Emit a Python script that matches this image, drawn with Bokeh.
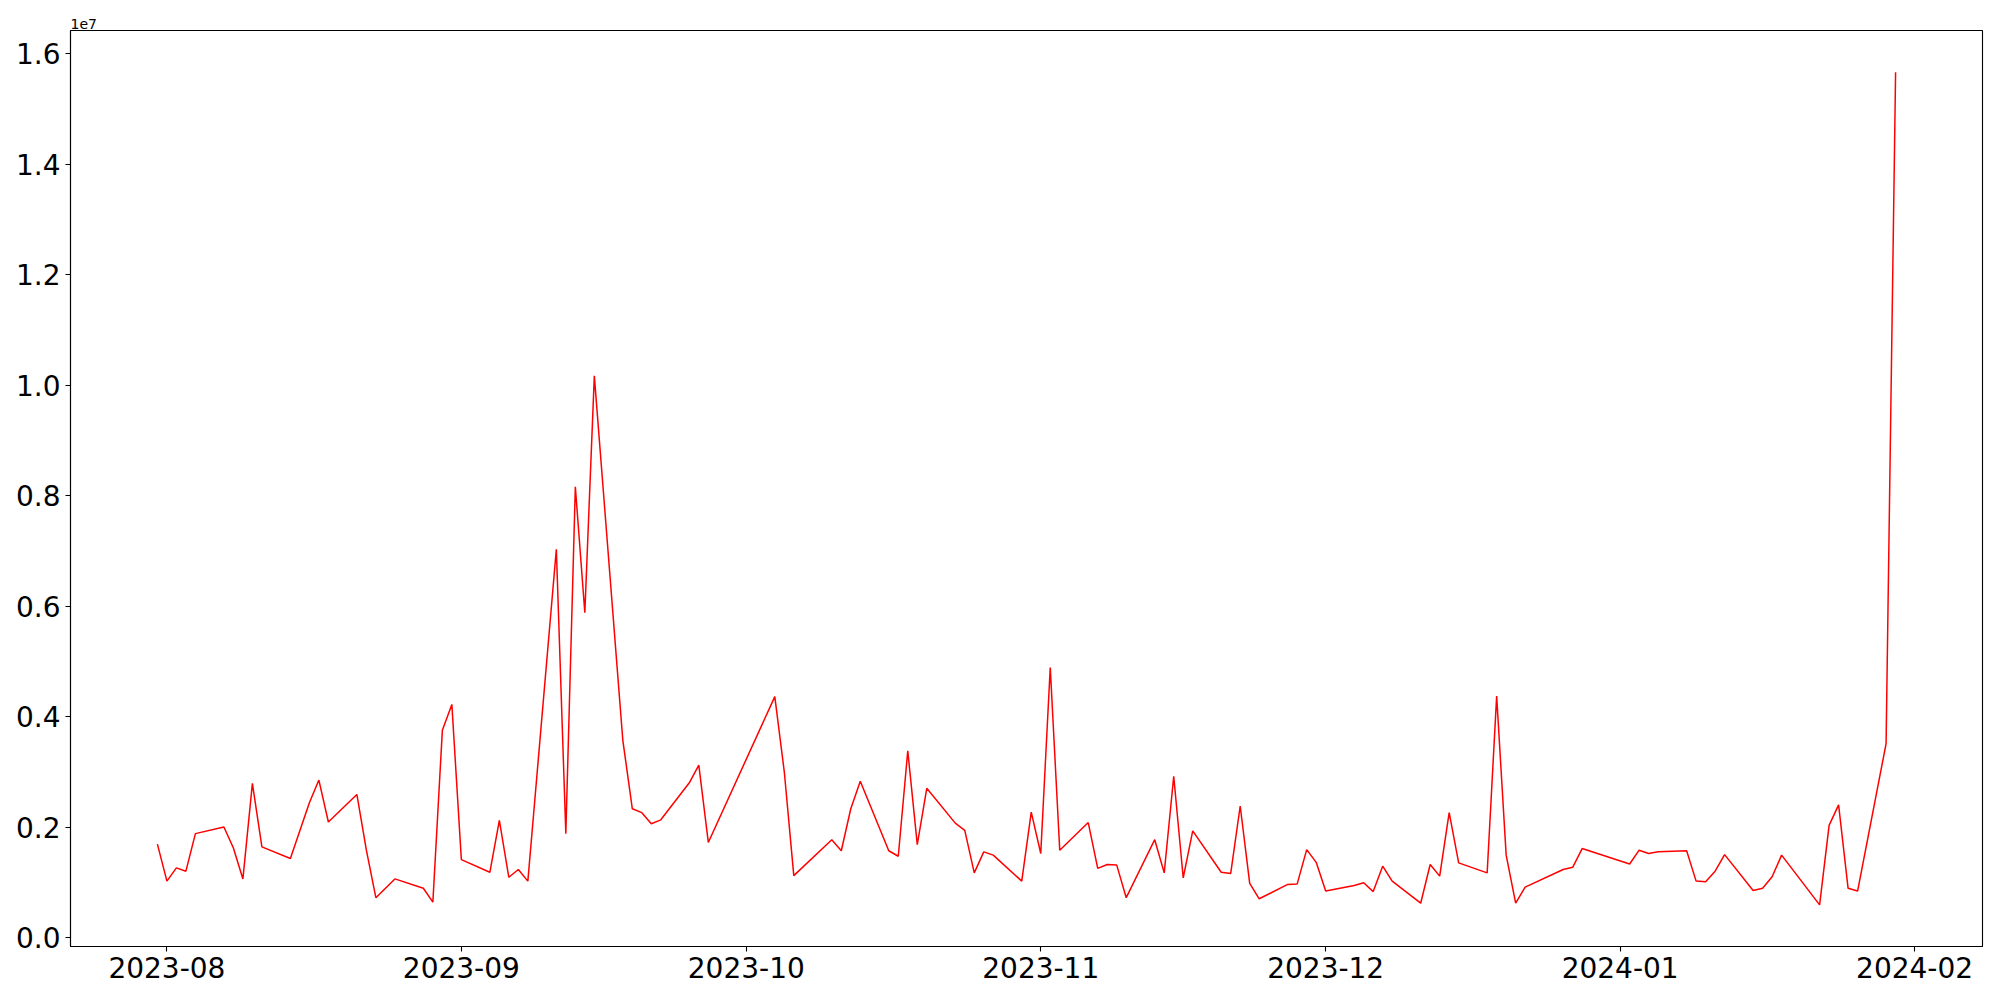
import pandas as pd
from bokeh.plotting import figure
from bokeh.models import Range1d, FixedTicker, CustomJSTickFormatter, DatetimeTickFormatter
from bokeh.embed import file_html
from bokeh.resources import INLINE

dates = [
    "2023-07-31", "2023-08-01", "2023-08-02", "2023-08-03", "2023-08-04",
    "2023-08-07", "2023-08-08", "2023-08-09", "2023-08-10", "2023-08-11",
    "2023-08-14", "2023-08-16", "2023-08-17", "2023-08-18",
    "2023-08-21", "2023-08-22", "2023-08-23", "2023-08-25",
    "2023-08-28", "2023-08-29", "2023-08-30", "2023-08-31", "2023-09-01",
    "2023-09-04", "2023-09-05", "2023-09-06", "2023-09-07", "2023-09-08",
    "2023-09-11", "2023-09-12", "2023-09-13", "2023-09-14", "2023-09-15",
    "2023-09-18", "2023-09-19", "2023-09-20", "2023-09-21", "2023-09-22",
    "2023-09-25", "2023-09-26", "2023-09-27",
    "2023-10-04", "2023-10-05", "2023-10-06",
    "2023-10-10", "2023-10-11", "2023-10-12", "2023-10-13",
    "2023-10-16", "2023-10-17", "2023-10-18", "2023-10-19", "2023-10-20",
    "2023-10-23", "2023-10-24", "2023-10-25", "2023-10-26", "2023-10-27",
    "2023-10-30", "2023-10-31", "2023-11-01", "2023-11-02", "2023-11-03",
    "2023-11-06", "2023-11-07", "2023-11-08", "2023-11-09", "2023-11-10",
    "2023-11-13", "2023-11-14", "2023-11-15", "2023-11-16", "2023-11-17",
    "2023-11-20", "2023-11-21", "2023-11-22", "2023-11-23", "2023-11-24",
    "2023-11-27", "2023-11-28", "2023-11-29", "2023-11-30", "2023-12-01",
    "2023-12-04", "2023-12-05", "2023-12-06", "2023-12-07", "2023-12-08",
    "2023-12-11", "2023-12-12", "2023-12-13", "2023-12-14", "2023-12-15",
    "2023-12-18", "2023-12-19", "2023-12-20", "2023-12-21", "2023-12-22",
    "2023-12-26", "2023-12-27", "2023-12-28",
    "2024-01-02", "2024-01-03", "2024-01-04", "2024-01-05",
    "2024-01-08", "2024-01-09", "2024-01-10", "2024-01-11", "2024-01-12",
    "2024-01-15", "2024-01-16", "2024-01-17", "2024-01-18",
    "2024-01-22", "2024-01-23", "2024-01-24", "2024-01-25", "2024-01-26",
    "2024-01-29", "2024-01-30",
]

values = [
    1.69e6, 1.02e6, 1.26e6, 1.20e6, 1.88e6,
    2.00e6, 1.62e6, 1.06e6, 2.79e6, 1.64e6,
    1.43e6, 2.44e6, 2.85e6, 2.09e6,
    2.59e6, 1.58e6, 0.72e6, 1.06e6,
    0.89e6, 0.64e6, 3.75e6, 4.22e6, 1.41e6,
    1.18e6, 2.12e6, 1.09e6, 1.23e6, 1.02e6,
    7.03e6, 1.88e6, 8.16e6, 5.88e6, 10.17e6,
    3.57e6, 2.33e6, 2.26e6, 2.06e6, 2.13e6,
    2.80e6, 3.12e6, 1.72e6,
    4.36e6, 3.00e6, 1.12e6,
    1.77e6, 1.57e6, 2.33e6, 2.83e6,
    1.57e6, 1.47e6, 3.38e6, 1.68e6, 2.70e6,
    2.07e6, 1.94e6, 1.17e6, 1.55e6, 1.49e6,
    1.02e6, 2.27e6, 1.52e6, 4.89e6, 1.58e6,
    2.08e6, 1.25e6, 1.32e6, 1.31e6, 0.72e6,
    1.77e6, 1.17e6, 2.92e6, 1.08e6, 1.93e6,
    1.18e6, 1.16e6, 2.38e6, 0.98e6, 0.70e6,
    0.96e6, 0.97e6, 1.59e6, 1.36e6, 0.84e6,
    0.94e6, 0.99e6, 0.83e6, 1.29e6, 1.02e6,
    0.62e6, 1.32e6, 1.11e6, 2.26e6, 1.35e6,
    1.17e6, 4.37e6, 1.49e6, 0.62e6, 0.91e6,
    1.23e6, 1.27e6, 1.61e6,
    1.33e6, 1.58e6, 1.52e6, 1.55e6,
    1.57e6, 1.02e6, 1.01e6, 1.20e6, 1.50e6,
    0.85e6, 0.89e6, 1.10e6, 1.49e6,
    0.59e6, 2.03e6, 2.40e6, 0.89e6, 0.84e6,
    3.51e6, 15.67e6,
]

x_tick_dates = ["2023-08-01", "2023-09-01", "2023-10-01", "2023-11-01",
                "2023-12-01", "2024-01-01", "2024-02-01"]
y_ticks = [0, 2e6, 4e6, 6e6, 8e6, 10e6, 12e6, 14e6, 16e6]
offset_text = "1e7"

xs = pd.to_datetime(dates)
x_ms = [t.value / 1e6 for t in xs]
xmin, xmax = min(x_ms), max(x_ms)
xpad = (xmax - xmin) * 0.05
ymin, ymax = min(values), max(values)
ypad = (ymax - ymin) * 0.05

p = figure(
    x_axis_type="datetime",
    frame_width=1912, frame_height=916,
    min_border_left=70, min_border_top=30, min_border_right=10, min_border_bottom=46,
    x_range=Range1d(xmin - xpad, xmax + xpad),
    y_range=Range1d(ymin - ypad, ymax + ypad),
    output_backend="svg", toolbar_location=None,
    title=offset_text,
)

p.title.text_font = "DejaVu Sans"
p.title.text_font_size = "14px"
p.title.text_font_style = "normal"
p.title.text_color = "black"
p.title.align = "left"
p.title.offset = 0
p.title.standoff = 3

p.line(xs, values, line_color="red", line_width=1.5)

p.xgrid.visible = False
p.ygrid.visible = False
p.outline_line_color = "black"
p.outline_line_width = 1.1
p.background_fill_color = "white"
p.border_fill_color = "white"

p.xaxis.ticker = FixedTicker(ticks=[pd.Timestamp(d).value / 1e6 for d in x_tick_dates])
p.xaxis.formatter = DatetimeTickFormatter(
    days="%Y-%m", months="%Y-%m", years="%Y-%m", hours="%Y-%m",
    hourmin="%Y-%m", minutes="%Y-%m", minsec="%Y-%m", seconds="%Y-%m",
    milliseconds="%Y-%m", microseconds="%Y-%m", context=None,
)
p.yaxis.ticker = FixedTicker(ticks=y_ticks)
p.yaxis.formatter = CustomJSTickFormatter(code="return (tick / 1e7).toFixed(1);")

for ax in (p.xaxis[0], p.yaxis[0]):
    ax.major_label_text_font = "DejaVu Sans"
    ax.major_label_text_font_size = "28px"
    ax.major_label_text_color = "black"
    ax.major_tick_out = 5
    ax.major_tick_in = 0
    ax.major_tick_line_width = 1.1
    ax.major_tick_line_color = "black"
    ax.minor_tick_out = 0
    ax.minor_tick_in = 0
    ax.axis_line_color = "black"
    ax.axis_line_width = 1.1
    ax.major_label_standoff = 5

open("out.html", "w").write(file_html(p, INLINE))
